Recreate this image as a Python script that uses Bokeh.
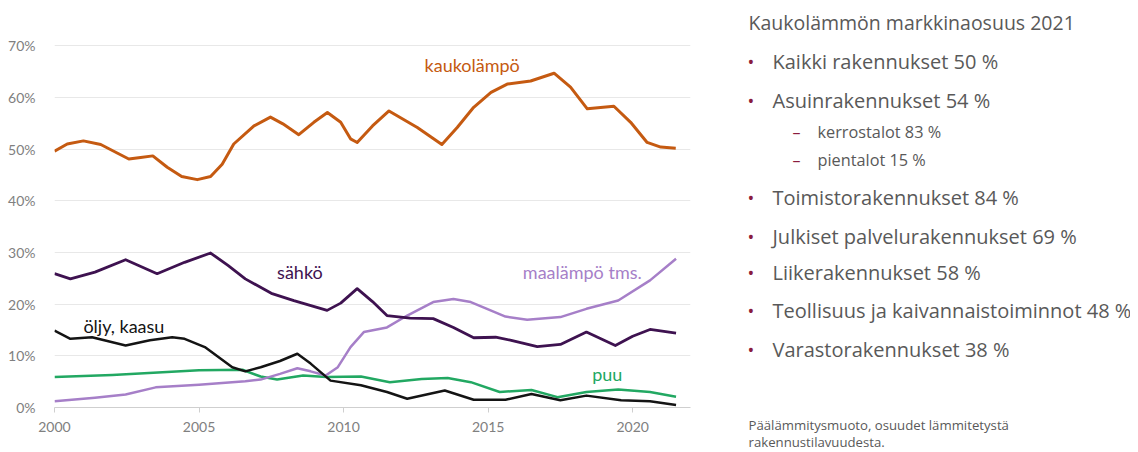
from bokeh.plotting import figure
from bokeh.layouts import row
from bokeh.models import Range1d, FixedTicker, CustomJSTickFormatter
from bokeh.core.properties import value
from bokeh.embed import file_html
from bokeh.resources import INLINE

# ---------------- data (percent shares) ----------------
kauko_x = [2000.0, 2000.44, 2001.0, 2001.6, 2002.05, 2002.57, 2002.98, 2003.4, 2003.9, 2004.4,
           2004.94, 2005.4, 2005.8, 2006.2, 2006.9, 2007.47, 2007.9, 2008.45, 2008.97, 2009.44,
           2009.9, 2010.24, 2010.47, 2011.0, 2011.57, 2012.55, 2013.4, 2013.93, 2014.5, 2015.1,
           2015.66, 2016.47, 2017.28, 2017.85, 2018.43, 2019.35, 2019.93, 2020.5, 2020.97, 2021.49]
kauko_y = [49.6, 51.0, 51.6, 50.9, 49.6, 48.1, 48.4, 48.7, 46.5, 44.7,
           44.1, 44.7, 47.1, 51.0, 54.5, 56.2, 54.9, 52.8, 55.2, 57.1,
           55.2, 52.0, 51.3, 54.5, 57.4, 54.2, 50.9, 54.2, 58.1, 61.0,
           62.6, 63.2, 64.7, 62.0, 57.8, 58.3, 55.2, 51.3, 50.4, 50.2]

sahko_x = [2000.0, 2000.55, 2001.4, 2002.46, 2003.55, 2004.5, 2005.4, 2006.0, 2006.6, 2007.5,
           2008.28, 2009.43, 2009.9, 2010.47, 2011.0, 2011.5, 2012.3, 2013.1, 2013.8, 2014.5,
           2015.26, 2015.8, 2016.7, 2017.5, 2018.4, 2019.4, 2020.0, 2020.6, 2021.5]
sahko_y = [25.9, 24.9, 26.2, 28.6, 25.9, 28.1, 29.9, 27.5, 24.9, 22.1,
           20.7, 18.8, 20.2, 23.0, 20.5, 17.8, 17.3, 17.2, 15.5, 13.5,
           13.6, 13.0, 11.8, 12.2, 14.6, 12.0, 13.8, 15.1, 14.4]

oljy_x = [2000.0, 2000.55, 2001.3, 2002.46, 2003.3, 2004.07, 2004.5, 2005.2, 2006.15, 2006.6,
          2007.13, 2007.8, 2008.4, 2008.86, 2009.55, 2010.6, 2011.5, 2012.2, 2013.5, 2014.5,
          2015.6, 2016.5, 2017.5, 2018.4, 2019.6, 2020.6, 2021.5]
oljy_y = [14.9, 13.3, 13.6, 12.0, 13.0, 13.6, 13.3, 11.7, 7.8, 7.0,
          7.8, 9.0, 10.4, 8.5, 5.2, 4.3, 3.0, 1.7, 3.3, 1.5,
          1.5, 2.6, 1.4, 2.3, 1.4, 1.2, 0.5]

puu_x = [2000.0, 2002.0, 2005.0, 2006.5, 2007.13, 2007.7, 2008.6, 2009.4, 2010.6, 2011.6,
         2012.7, 2013.6, 2014.4, 2015.4, 2016.5, 2017.4, 2018.4, 2019.5, 2020.6, 2021.5]
puu_y = [5.9, 6.3, 7.2, 7.3, 6.0, 5.4, 6.2, 5.9, 6.0, 4.9,
         5.5, 5.7, 4.9, 3.0, 3.4, 2.0, 3.0, 3.5, 3.0, 2.1]

maa_x = [2000.0, 2001.4, 2002.46, 2003.5, 2005.0, 2006.6, 2007.13, 2007.8, 2008.4, 2008.86,
         2009.38, 2009.8, 2010.24, 2010.7, 2011.5, 2012.2, 2013.1, 2013.8, 2014.4, 2014.96,
         2015.6, 2016.35, 2017.5, 2018.4, 2019.5, 2020.6, 2021.5]
maa_y = [1.2, 1.9, 2.5, 3.9, 4.4, 5.1, 5.4, 6.5, 7.6, 7.0,
         6.2, 7.8, 11.7, 14.6, 15.5, 17.8, 20.4, 21.0, 20.4, 19.1,
         17.6, 17.0, 17.5, 19.1, 20.7, 24.6, 28.8]

y_ticks = [0, 10, 20, 30, 40, 50, 60, 70]
x_ticks = [2000, 2005, 2010, 2015, 2020]

series_labels = ["kaukolämpö", "sähkö", "öljy, kaasu", "maalämpö tms.", "puu"]

panel_title = "Kaukolämmön markkinaosuus 2021"
bullets = ["Kaikki rakennukset 50 %", "Asuinrakennukset 54 %"]
sub_items = ["kerrostalot 83 %", "pientalot 15 %"]
bullets2 = ["Toimistorakennukset 84 %", "Julkiset palvelurakennukset 69 %",
            "Liikerakennukset 58 %", "Teollisuus ja kaivannaistoiminnot 48 %",
            "Varastorakennukset 38 %"]
footnote = ["Päälämmitysmuoto, osuudet lämmitetystä", "rakennustilavuudesta."]

# ---------------- colours ----------------
C_ORANGE = "#C55A11"
C_DPURP = "#3E1250"
C_LPURP = "#A67FC8"
C_GREEN = "#22A862"
C_BLACK = "#141414"
C_TEXT = "#595959"
C_BULLET = "#8A1C3E"

FONT_CHART = "Lato"
FONT_PANEL = "Open Sans"

BORDER_TOP = 35
BORDER_BOTTOM = 43
HEIGHT = 450

# ---------------- chart ----------------
p = figure(width=708, height=HEIGHT, output_backend="svg", toolbar_location=None,
           x_range=Range1d(2000, 2022), y_range=Range1d(0, 72),
           min_border_left=54, min_border_right=18,
           min_border_top=BORDER_TOP, min_border_bottom=BORDER_BOTTOM)
p.outline_line_color = None
p.background_fill_color = "white"
p.border_fill_color = "white"

p.xgrid.visible = False
p.ygrid.ticker = FixedTicker(ticks=y_ticks[1:])
p.ygrid.grid_line_color = "#e8e8e8"
p.ygrid.grid_line_width = 1

p.yaxis.ticker = FixedTicker(ticks=y_ticks)
p.yaxis.formatter = CustomJSTickFormatter(code="return tick.toFixed(0) + '%';")
p.yaxis.axis_line_color = None
p.yaxis.major_tick_line_color = None
p.yaxis.minor_tick_line_color = None
p.yaxis.major_label_text_color = "#808080"
p.yaxis.major_label_text_font = FONT_CHART
p.yaxis.major_label_text_font_size = "14px"
p.yaxis.major_label_standoff = 13

p.xaxis.ticker = FixedTicker(ticks=x_ticks)
p.xaxis.axis_line_color = "#cfcfcf"
p.xaxis.axis_line_width = 1
p.xaxis.major_tick_line_color = "#cfcfcf"
p.xaxis.major_tick_out = 5
p.xaxis.major_tick_in = 0
p.xaxis.minor_tick_line_color = None
p.xaxis.major_label_text_color = "#808080"
p.xaxis.major_label_text_font = FONT_CHART
p.xaxis.major_label_text_font_size = "14px"
p.xaxis.major_label_standoff = 9

p.line(puu_x, puu_y, line_color=C_GREEN, line_width=2.5, line_join="round")
p.line(maa_x, maa_y, line_color=C_LPURP, line_width=2.5, line_join="round")
p.line(oljy_x, oljy_y, line_color=C_BLACK, line_width=2.5, line_join="round")
p.line(sahko_x, sahko_y, line_color=C_DPURP, line_width=2.8, line_join="round")
p.line(kauko_x, kauko_y, line_color=C_ORANGE, line_width=3, line_join="round")

# series labels (position in data coordinates)
lab_x = [2012.8, 2007.7, 2001.0, 2016.2, 2018.6]
lab_y = [66.3, 26.3, 15.8, 26.3, 6.5]
lab_c = [C_ORANGE, C_DPURP, C_BLACK, C_LPURP, C_GREEN]
for t, x, y, c in zip(series_labels, lab_x, lab_y, lab_c):
    p.text(x=[x], y=[y], text=[t], text_color=c, text_font=value(FONT_CHART),
           text_font_size="18px", text_baseline="middle", text_align="left")

# ---------------- text panel (data coordinates = page pixels) ----------------
# the row aligns plot frames, so the panel frame gets the same top/bottom borders;
# the y range is chosen so that one data unit equals one page pixel.
q = figure(width=422, height=HEIGHT, output_backend="svg", toolbar_location=None,
           x_range=Range1d(708, 1130), y_range=Range1d(HEIGHT - BORDER_BOTTOM, BORDER_TOP),
           min_border_left=0, min_border_right=0,
           min_border_top=BORDER_TOP, min_border_bottom=BORDER_BOTTOM)
q.axis.visible = False
q.grid.visible = False
q.outline_line_color = None

q.text(x=[748], y=[22], text=[panel_title], text_color=C_TEXT, text_font=value(FONT_PANEL),
       text_font_size="19.5px", text_baseline="middle", level="overlay")

main_items = bullets + bullets2
main_y = [61, 100, 197, 236, 272, 310, 349]
q.text(x=[747] * len(main_items), y=main_y, text=["•"] * len(main_items), text_color=C_BULLET,
       text_font=value(FONT_PANEL), text_font_size="18px", text_baseline="middle", level="overlay")
q.text(x=[772] * len(main_items), y=main_y, text=main_items, text_color=C_TEXT,
       text_font=value(FONT_PANEL), text_font_size="20px", text_baseline="middle", level="overlay")

sub_y = [131, 159]
q.text(x=[792] * 2, y=sub_y, text=["–"] * 2, text_color=C_BULLET,
       text_font=value(FONT_PANEL), text_font_size="16px", text_baseline="middle", level="overlay")
q.text(x=[817] * 2, y=sub_y, text=sub_items, text_color=C_TEXT,
       text_font=value(FONT_PANEL), text_font_size="16.3px", text_baseline="middle", level="overlay")

q.text(x=[748] * 2, y=[424, 441], text=footnote, text_color=C_TEXT,
       text_font=value(FONT_PANEL), text_font_size="13.2px", text_baseline="middle", level="overlay")

layout = row(p, q, spacing=0)
open("out.html", "w").write(file_html(layout, INLINE))
